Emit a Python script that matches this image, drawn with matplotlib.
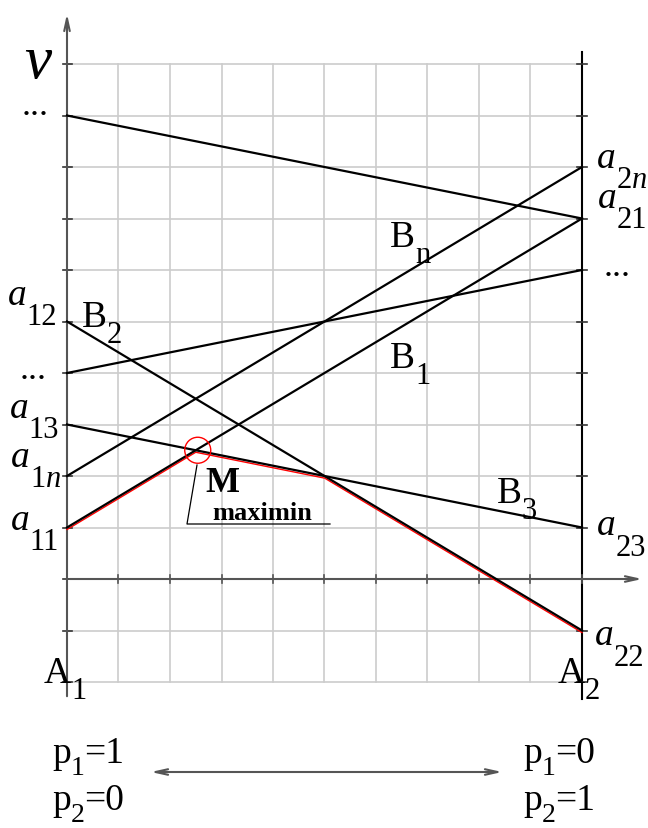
import numpy as np
import matplotlib.pyplot as plt
from matplotlib.patches import Ellipse
from matplotlib import transforms

plt.rcParams['font.family'] = ['Liberation Serif', 'DejaVu Serif']
plt.rcParams['mathtext.fontset'] = 'custom'
plt.rcParams['mathtext.rm'] = 'Liberation Serif'
plt.rcParams['mathtext.it'] = 'Liberation Serif:italic'

# payoffs of A1 (p1=1) and A2 (p2=1) against each strategy of B
b_names = ["B1", "B2", "B3", "Bn", "B top", "B mid"]
pay_a1 = [1, 5, 3, 2, 9, 4]
pay_a2 = [7, -1, 1, 8, 7, 6]
grid_x = np.linspace(0, 1, 11)
grid_y = np.arange(-2, 11)

W, H = 648, 829
X0, X1 = 67, 582      # pixel x of the A1 and A2 verticals
Y0, DY = 580, 51.5    # pixel y of v=0, pixels per unit


def P(px, py):
    return (px - X0) / (X1 - X0), (Y0 - py) / DY


fig = plt.figure(figsize=(W / 100, H / 100), dpi=100)
ax = fig.add_axes([0, 0, 1, 1])
ax.axis('off')
ax.set_xlim(P(0, 0)[0], P(W, 0)[0])
ax.set_ylim(P(0, H)[1], P(0, 0)[1])

# grid
for gx in grid_x:
    ax.plot([gx, gx], [grid_y[0], grid_y[-1]], color='#cccccc', lw=1.2, zorder=1)
for gy in grid_y:
    ax.plot([0, 1], [gy, gy], color='#cccccc', lw=1.2, zorder=1)

# axes
arrow = '->,head_length=0.9,head_width=0.2'
ax.annotate('', xy=P(67, 12), xytext=P(67, 700),
            arrowprops=dict(arrowstyle=arrow, color='#555555', lw=1.5))
ax.annotate('', xy=P(645, 580), xytext=P(67, 580),
            arrowprops=dict(arrowstyle=arrow, color='#555555', lw=1.5))
ax.plot([1, 1], [P(0, 53)[1], P(0, 700)[1]], color='black', lw=1.5, zorder=2)
for gy in grid_y:
    ax.plot([P(63, 0)[0], P(72, 0)[0]], [gy, gy], color='#333333', lw=1.2, zorder=2)
    ax.plot([P(577, 0)[0], P(587, 0)[0]], [gy, gy], color='#333333', lw=1.2, zorder=2)
for gx in grid_x:
    ax.plot([gx, gx], [P(0, 576)[1], P(0, 584)[1]], color='#555555', lw=1.2, zorder=2)

# strategy lines of B
for a1, a2 in zip(pay_a1, pay_a2):
    ax.plot([0, 1], [a1, a2], color='black', lw=1.6, zorder=4)

# lower envelope (maximin path)
xs = np.linspace(0, 1, 2001)
a1v = np.array(pay_a1, dtype=float)[:, None]
a2v = np.array(pay_a2, dtype=float)[:, None]
env = (a1v + (a2v - a1v) * xs).min(axis=0)
shift = ax.transData + transforms.ScaledTranslation(0, -0.02, fig.dpi_scale_trans)
ax.plot(xs, env, color='red', lw=1.0, transform=shift, zorder=3)

i = env.argmax()
mx, my = xs[i], env[i]
ax.add_patch(Ellipse((mx + 2 / (X1 - X0), my), 26 / (X1 - X0), 26 / DY, fill=False,
                     edgecolor='red', lw=1.0, zorder=5))
lx, ly = zip(P(197, 466), P(187, 525), P(330, 525))
ax.plot(lx, ly, color='black', lw=0.9, zorder=5)


def label(px, py, base, sub='', tail='', size=27, sub_size=22, italic=False,
          weight='normal', drop=9):
    t = ax.text(*P(px, py), base, fontsize=size, ha='left', va='baseline',
                fontstyle='italic' if italic else 'normal', fontweight=weight)
    if sub:
        s = ax.annotate(sub, xy=(1, 0), xycoords=t, xytext=(0, -drop),
                        textcoords='offset points', fontsize=sub_size,
                        ha='left', va='baseline')
        if tail:
            ax.annotate(tail, xy=(1, 0), xycoords=(s, t), xytext=(0, 0),
                        textcoords='offset points', fontsize=size,
                        ha='left', va='bottom')
    return t


ax.text(*P(24, 78), 'ν', fontsize=44, ha='left', va='baseline', fontstyle='italic')
for px, py in [(22, 115), (20, 379), (604, 276)]:
    ax.text(*P(px, py), '...', fontsize=26, ha='left', va='baseline')

label(8, 305, 'a', '12', italic=True)
label(10, 418, 'a', '13', italic=True)
label(11, 467, 'a', '1$n$', italic=True)
label(11, 530, 'a', '11', italic=True)
label(597, 168, 'a', '2$n$', italic=True)
label(598, 208, 'a', '21', italic=True)
label(597, 535, 'a', '23', italic=True)
label(595, 645, 'a', '22', italic=True)

label(82, 327, 'B', '2', drop=6)
label(390, 247, 'B', 'n', drop=6)
label(390, 368, 'B', '1', drop=6)
label(497, 503, 'B', '3', drop=6)
label(44, 683, 'A', '1', drop=6)
label(558, 683, 'A', '2', drop=6)

ax.text(*P(205, 492), 'M', fontsize=26, fontweight='bold', ha='left', va='baseline')
ax.text(*P(212, 520), 'maximin', fontsize=19, fontweight='bold', ha='left', va='baseline')

label(52, 763, 'p', '1', '=1', size=27, sub_size=20, drop=3)
label(52, 810, 'p', '2', '=0', size=27, sub_size=20, drop=3)
label(523, 763, 'p', '1', '=0', size=27, sub_size=20, drop=3)
label(523, 810, 'p', '2', '=1', size=27, sub_size=20, drop=3)

ax.annotate('', xy=P(148, 773), xytext=P(505, 773),
            arrowprops=dict(arrowstyle='<->,head_length=0.9,head_width=0.2',
                            color='#555555', lw=1.5))

fig.savefig('out.png', dpi=100)
